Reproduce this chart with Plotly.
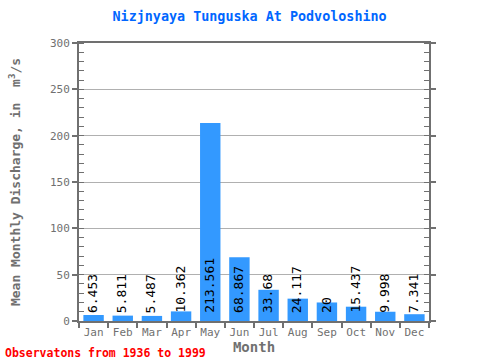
import plotly.graph_objects as go

months = ["Jan", "Feb", "Mar", "Apr", "May", "Jun", "Jul", "Aug", "Sep", "Oct", "Nov", "Dec"]
discharge = [6.453, 5.811, 5.487, 10.362, 213.561, 68.867, 33.68, 24.117, 20, 15.437, 9.998, 7.341]
labels = ["6.453", "5.811", "5.487", "10.362", "213.561", "68.867", "33.68", "24.117", "20", "15.437", "9.998", "7.341"]

FONT = "DejaVu Sans Mono"
GRAY = "#707070"

fig = go.Figure()
fig.add_trace(go.Bar(x=months, y=discharge, marker_color="#3399ff", marker_line_width=0,
                     width=0.7, hoverinfo="x+y"))

for m, v, t in zip(months, discharge, labels):
    fig.add_annotation(x=m, y=0, text=t, textangle=-90, showarrow=False,
                       xanchor="center", yanchor="bottom", yshift=6, xshift=-1,
                       font=dict(family=FONT, size=13, color="black"))

fig.update_layout(
    width=480, height=360,
    margin=dict(l=79, r=51, t=43, b=39),
    paper_bgcolor="white", plot_bgcolor="white",
    showlegend=False,
    title=dict(text="<b>Nizjnyaya Tunguska At Podvoloshino</b>", x=0.52, xanchor="center",
               y=1 - 12 / 360, yanchor="top",
               font=dict(family=FONT, size=13.4, color="#0066ff")),
    font=dict(family=FONT),
)
fig.update_xaxes(
    automargin=False, tickangle=0,
    showline=True, linewidth=2, linecolor=GRAY, mirror=True,
    ticks="outside", tickson="boundaries", ticklen=5, tickcolor=GRAY, tickwidth=2,
    tickfont=dict(family=FONT, size=11, color=GRAY),
    title=dict(text="<b>Month</b>", font=dict(family=FONT, size=14, color=GRAY), standoff=0),
    showgrid=False,
)
fig.update_yaxes(
    automargin=False,
    range=[0, 300], tickvals=[0, 50, 100, 150, 200, 250, 300],
    showline=True, linewidth=2, linecolor=GRAY, mirror="ticks",
    ticks="outside", ticklen=5, tickcolor=GRAY, tickwidth=2,
    tickfont=dict(family=FONT, size=11, color=GRAY),
    showgrid=True, gridcolor="#b0b0b0", gridwidth=1,
    minor=dict(dtick=10, ticks="inside", ticklen=5, tickcolor=GRAY, tickwidth=1, showgrid=False),
    title=dict(text="<b>Mean Monthly Discharge, in  m<sup>3</sup>/s</b>",
               font=dict(family=FONT, size=13, color=GRAY), standoff=26),
    zeroline=False,
)
fig.add_annotation(xref="paper", yref="paper", x=-76/350, y=-41/278, xanchor="left", yanchor="bottom",
                   text="<b>Observatons from 1936 to 1999</b>", showarrow=False,
                   font=dict(family=FONT, size=11.5, color="red"))

fig.write_html("out.html", post_script="document.body.style.margin='0';",
               config={"displayModeBar": False})
